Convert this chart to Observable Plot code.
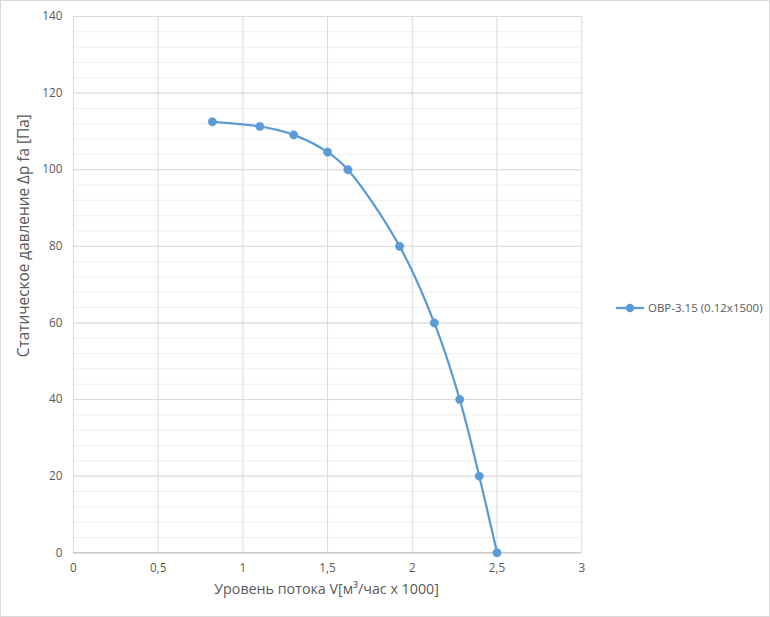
<!DOCTYPE html>
<html><head><meta charset="utf-8">
<script src="https://cdn.jsdelivr.net/npm/d3@7"></script>
<script src="https://cdn.jsdelivr.net/npm/@observablehq/plot@0.6"></script>
<style>
html,body{margin:0;padding:0;background:#fff;}
#wrap{position:relative;width:770px;height:617px;box-sizing:border-box;border:1px solid #d9d9d9;overflow:hidden;}
#chart{position:absolute;left:-1px;top:-1px;}
#legend{position:absolute;left:614px;top:299px;font-family:"Open Sans",sans-serif;font-size:11.5px;color:#595959;display:flex;align-items:center;white-space:nowrap;}
</style></head>
<body><div id="wrap"><div id="chart"></div><div id="legend"></div></div>
<script>
const seriesName = "OBP-3.15 (0.12x1500)";
const flow = [0.82, 1.1, 1.3, 1.5, 1.62, 1.925, 2.13, 2.28, 2.395, 2.5];
const pressure = [112.5, 111.3, 109.1, 104.6, 100, 80, 60, 40, 20, 0];
const xTicks = [0, 0.5, 1, 1.5, 2, 2.5, 3];
const yTicks = [0, 20, 40, 60, 80, 100, 120, 140];
const yMinor = d3.range(0, 141, 4);
const xTitle = "Уровень потока V[м³/час x 1000]";
const yTitle = "Статическое давление Δp fa [Па]";
const color = "#5B9BD5";

const data = flow.map((x, i) => ({x, y: pressure[i]}));
const fmt = d => String(d).replace(".", ",");

const plot = Plot.plot({
  width: 770, height: 617,
  marginLeft: 73, marginRight: 188, marginTop: 16, marginBottom: 64,
  style: {fontFamily: "'Open Sans', sans-serif", fontSize: "11.8px", color: "#595959", background: "transparent"},
  x: {domain: [0, 3]},
  y: {domain: [0, 140]},
  marks: [
    Plot.ruleY(yMinor, {stroke: "#eeeeee", strokeWidth: 1}),
    Plot.ruleY(yTicks, {stroke: "#d9d9d9", strokeWidth: 1}),
    Plot.ruleX(xTicks, {stroke: "#d9d9d9", strokeWidth: 1}),
    Plot.ruleY([0], {stroke: "#bfbfbf", strokeWidth: 1}),
    Plot.axisX({ticks: xTicks, tickFormat: fmt, tickSize: 0, tickPadding: 11, label: null}),
    Plot.axisY({ticks: yTicks, tickSize: 0, tickPadding: 11, label: null}),
    Plot.text([xTitle], {frameAnchor: "bottom", dx: -1, dy: 41, fontSize: 14.3, fill: "#595959"}),
    Plot.text([yTitle], {frameAnchor: "left", textAnchor: "middle", dx: -49, dy: -49, rotate: -90, fontSize: 15.4, fill: "#595959"}),
    Plot.line(data, {x: "x", y: "y", curve: "catmull-rom", stroke: color, strokeWidth: 2.25}),
    Plot.dot(data, {x: "x", y: "y", r: 4.2, fill: color, stroke: color, strokeWidth: 0.5})
  ]
});
document.getElementById("chart").appendChild(plot);

const lg = document.getElementById("legend");
lg.innerHTML = `<svg width="30" height="14" style="margin-right:3px"><line x1="1" y1="7" x2="29" y2="7" stroke="${color}" stroke-width="2.25"/><circle cx="15" cy="7" r="4.2" fill="${color}"/></svg><span>${seriesName}</span>`;
</script></body></html>
